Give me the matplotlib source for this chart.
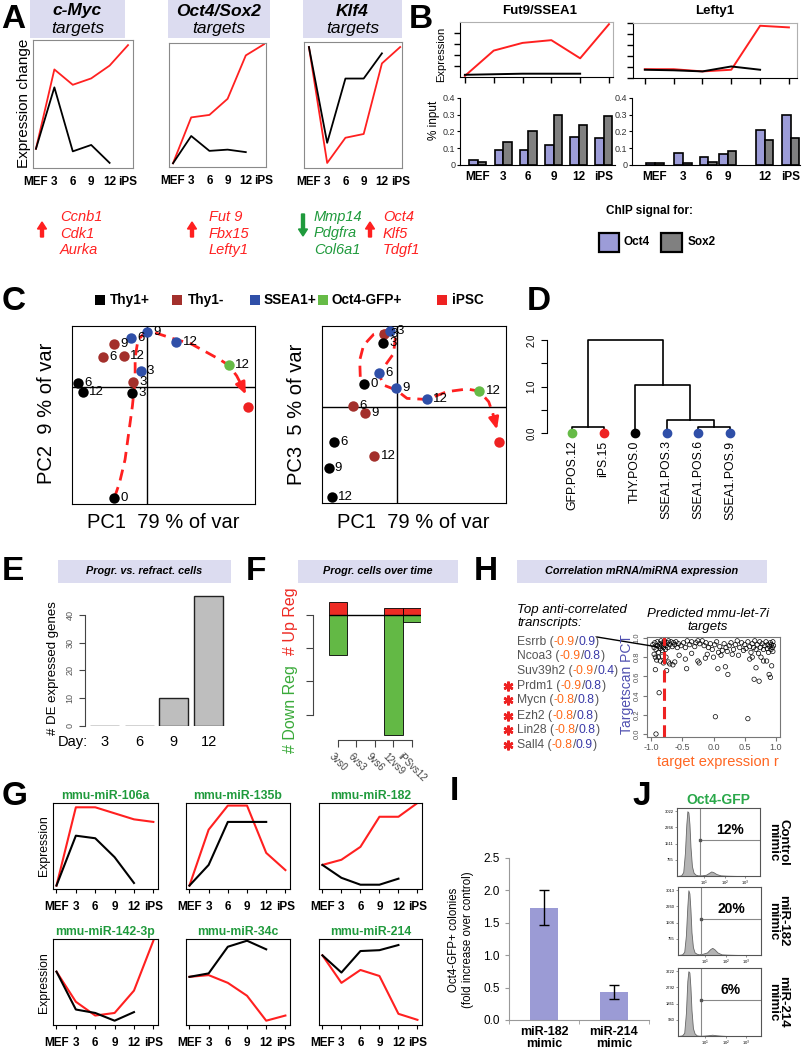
#!/usr/bin/env python3
"""Multi-panel reprogramming figure (panels A-J) rebuilt with matplotlib."""

import numpy as np
import matplotlib
matplotlib.use("Agg")
import matplotlib.pyplot as plt
from matplotlib.patches import Rectangle

plt.rcParams["font.family"] = ["Liberation Sans", "DejaVu Sans"]

W, H = 806, 1050

# ── data ──────────────────────────────────────────────────────────────────────
TIME = ["MEF", "3", "6", "9", "12", "iPS"]

# A: expression change of target sets (red = progressing, black = refractory)
myc_red = [0.15, 0.77, 0.65, 0.70, 0.80, 0.96]
myc_black = [0.15, 0.63, 0.13, 0.18, 0.04]
oct_red = [0.03, 0.40, 0.42, 0.55, 0.90, 0.99]
oct_black = [0.03, 0.25, 0.13, 0.14, 0.12]
klf_red = [0.96, 0.04, 0.24, 0.27, 0.83, 0.96]
klf_black = [0.96, 0.20, 0.71, 0.71, 0.91]
myc_genes = ["Ccnb1", "Cdk1", "Aurka"]
oct_genes = ["Fut 9", "Fbx15", "Lefty1"]
klf_down_genes = ["Mmp14", "Pdgfra", "Col6a1"]
klf_up_genes = ["Oct4", "Klf5", "Tdgf1"]

# B: expression + ChIP (% input)
fut9_red = [0.02, 0.48, 0.62, 0.67, 0.34, 0.96]
fut9_black = [0.04, 0.05, 0.06, 0.06, 0.06]
lefty_red = [0.16, 0.16, 0.12, 0.15, 0.95, 0.92]
lefty_black = [0.15, 0.14, 0.12, 0.21, 0.15]
fut9_oct4 = [0.03, 0.09, 0.09, 0.12, 0.17, 0.16]
fut9_sox2 = [0.02, 0.14, 0.20, 0.30, 0.24, 0.29]
lefty_oct4 = [0.01, 0.07, 0.05, 0.065, 0.21, 0.30]
lefty_sox2 = [0.01, 0.01, 0.015, 0.085, 0.15, 0.16]
lefty_pos = [0, 1.1, 2.1, 2.85, 4.3, 5.33]

# C: PCA (x = PC1 fraction, y = fraction from top)
pc12_grp = ["thy+", "thy+", "thy+", "thy+", "thy-", "thy-", "thy-", "thy-",
            "ssea", "ssea", "ssea", "ssea", "gfp", "ips"]
pc12_x = [0.035, 0.058, 0.330, 0.232, 0.232, 0.172, 0.284, 0.335,
          0.321, 0.408, 0.571, 0.375, 0.857, 0.960]
pc12_y = [0.322, 0.372, 0.376, 0.964, 0.099, 0.174, 0.170, 0.314,
          0.065, 0.034, 0.090, 0.252, 0.221, 0.454]
pc12_lab = ["6", "12", "3", "0", "9", "6", "12", "3", "6", "9", "12", "3", "12", ""]
pc12_path_x = [0.232, 0.26, 0.29, 0.31, 0.33, 0.345, 0.345, 0.36, 0.40, 0.46,
               0.55, 0.65, 0.74, 0.81, 0.857, 0.90, 0.925]
pc12_path_y = [0.964, 0.88, 0.75, 0.60, 0.45, 0.30, 0.18, 0.08, 0.035, 0.04,
               0.07, 0.10, 0.15, 0.19, 0.221, 0.28, 0.33]
pc12_arrow = (0.950, 0.385)

pc13_grp = ["thy-", "ssea", "thy+", "thy+", "thy+", "thy+", "thy+", "thy-", "thy-",
            "thy-", "ssea", "ssea", "ssea", "gfp", "ips"]
pc13_x = [0.339, 0.371, 0.330, 0.230, 0.067, 0.036, 0.054, 0.168, 0.232,
          0.284, 0.312, 0.404, 0.571, 0.855, 0.960]
pc13_y = [0.043, 0.028, 0.094, 0.325, 0.657, 0.803, 0.968, 0.450, 0.493,
          0.732, 0.263, 0.353, 0.415, 0.368, 0.657]
pc13_lab = ["3", "3", "3", "0", "6", "9", "12", "6", "9", "12", "6", "9", "12", "12", ""]
pc13_path_x = [0.208, 0.205, 0.226, 0.281, 0.353, 0.399, 0.389, 0.344, 0.312,
               0.335, 0.404, 0.462, 0.571, 0.679, 0.788, 0.855, 0.906, 0.930]
pc13_path_y = [0.287, 0.193, 0.109, 0.047, 0.024, 0.062, 0.156, 0.221, 0.278,
               0.334, 0.362, 0.409, 0.415, 0.371, 0.356, 0.368, 0.428, 0.50]
pc13_arrow = (0.951, 0.585)

# D: dendrogram
leaves = ["GFP.POS.12", "iPS.15", "THY.POS.0", "SSEA1.POS.3", "SSEA1.POS.6", "SSEA1.POS.9"]
leaf_grp = ["gfp", "ips", "thy+", "ssea", "ssea", "ssea"]
merge_a = [0, 4, 3, 2, 6]
merge_b = [1, 5, 7, 8, 9]
merge_h = [0.13, 0.12, 0.28, 1.03, 1.99]

# E: DE genes progressing vs refractory
de_days = ["3", "6", "9", "12"]
de_counts = [0, 0, 10, 47]

# F: progressing cells over time
f_cats = ["3vs0", "6vs3", "9vs6", "12vs9", "iPSvs12"]
f_up = [4, 0, 0, 2, 2]
f_down = [12, 0, 0, 36, 2]

# G: miRNA expression
mir_names = ["mmu-miR-106a", "mmu-miR-135b", "mmu-miR-182",
             "mmu-miR-142-3p", "mmu-miR-34c", "mmu-miR-214"]
mir_red = [[0.04, 0.95, 0.95, 0.88, 0.81, 0.78],
           [0.04, 0.69, 0.97, 0.97, 0.42, 0.22],
           [0.28, 0.34, 0.49, 0.84, 0.84, 1.00],
           [0.62, 0.27, 0.11, 0.14, 0.40, 0.98],
           [0.56, 0.58, 0.49, 0.34, 0.05, 0.11],
           [0.81, 0.49, 0.64, 0.57, 0.13, 0.06]]
mir_black = [[0.04, 0.62, 0.59, 0.37, 0.07],
             [0.04, 0.28, 0.78, 0.78, 0.78],
             [0.28, 0.13, 0.05, 0.05, 0.12],
             [0.62, 0.18, 0.14, 0.05, 0.15],
             [0.56, 0.60, 0.91, 0.98, 0.88],
             [0.81, 0.61, 0.86, 0.87, 0.93]]

# H: mRNA / miRNA correlation
h_genes = ["Esrrb", "Ncoa3", "Suv39h2", "Prdm1", "Mycn", "Ezh2", "Lin28", "Sall4"]
h_r = ["-0.9", "-0.9", "-0.9", "-0.9", "-0.8", "-0.8", "-0.8", "-0.8"]
h_pct = ["0.9", "0.8", "0.4", "0.8", "0.8", "0.8", "0.8", "0.9"]
h_star = [False, False, False, True, True, True, True, True]
let7_r = [-0.97, -0.95, -0.94, -0.92, -0.90, -0.90, -0.88, -0.87, -0.86, -0.85,
          -0.84, -0.83, -0.82, -0.81, -0.80, -0.79, -0.78, -0.77, -0.76, -0.74,
          -0.73, -0.72, -0.70, -0.68, -0.66, -0.64, -0.62, -0.60, -0.58, -0.56,
          -0.95, -0.93, -0.91, -0.88, -0.85, -0.82, -0.80, -0.76, -0.72, -0.70,
          -0.93, -0.87, -0.92, -0.75, -0.65, -0.62,
          -0.52, -0.48, -0.45, -0.42, -0.38, -0.35, -0.30, -0.28, -0.25, -0.22,
          -0.18, -0.15, -0.12, -0.08, -0.05, -0.02, 0.02, 0.05, 0.08, 0.10,
          0.14, 0.17, 0.20, 0.22, 0.25, 0.28, 0.32, 0.35, 0.38, 0.42, 0.45, 0.48,
          -0.45, -0.43, -0.25, -0.23, -0.13, -0.10, 0.00, 0.03, 0.07, 0.12,
          0.19, 0.23, 0.30, 0.40, -0.35, -0.55,
          0.50, 0.52, 0.55, 0.55, 0.58, 0.60, 0.62, 0.64, 0.65, 0.66, 0.68, 0.68,
          0.70, 0.72, 0.73, 0.74, 0.75, 0.76, 0.78, 0.80, 0.80, 0.82, 0.84, 0.85,
          0.86, 0.87, 0.88, 0.89, 0.90, 0.91, 0.91, 0.92, 0.93, 0.93, 0.94, 0.95,
          0.95, 0.96, 0.62, 0.58]
let7_pct = [0.93, 0.90, 0.95, 0.88, 0.92, 0.96, 0.85, 0.91, 0.94, 0.89,
            0.97, 0.92, 0.87, 0.95, 0.90, 0.93, 0.96, 0.88, 0.92, 0.95,
            0.90, 0.97, 0.93, 0.96, 0.91, 0.95, 0.93, 0.96, 0.90, 0.94,
            0.83, 0.80, 0.77, 0.80, 0.76, 0.81, 0.74, 0.80, 0.75, 0.73,
            0.67, 0.43, 0.00, 0.66, 0.72, 0.75,
            0.92, 0.95, 0.90, 0.97, 0.93, 0.96, 0.91, 0.95, 0.97, 0.94,
            0.97, 0.92, 0.95, 0.90, 0.94, 0.88, 0.93, 0.96, 0.85, 0.91,
            0.87, 0.94, 0.90, 0.86, 0.92, 0.95, 0.88, 0.93, 0.97, 0.90, 0.95, 0.87,
            0.78, 0.68, 0.76, 0.74, 0.79, 0.83, 0.80, 0.18, 0.68, 0.82,
            0.70, 0.62, 0.83, 0.82, 0.84, 0.82,
            0.93, 0.89, 0.16, 0.96, 0.91, 0.85, 0.94, 0.90, 0.57, 0.97, 0.69, 0.88,
            0.93, 0.84, 0.55, 0.96, 0.90, 0.80, 0.94, 0.76, 0.88, 0.92, 0.96, 0.76,
            0.89, 0.93, 0.85, 0.62, 0.91, 0.59, 0.95, 0.88, 0.71, 0.93, 0.90, 0.96,
            0.86, 0.92, 0.80, 0.78]

# I: colony counts
i_labels = ["miR-182\nmimic", "miR-214\nmimic"]
i_means = [1.73, 0.43]
i_err = [0.27, 0.11]

# J: Oct4-GFP flow histograms (log10 fluorescence)
hist_x = [0.0, 0.2, 0.3, 0.38, 0.45, 0.5, 0.55, 0.6, 0.65, 0.72, 0.8, 0.9, 1.0,
          1.2, 1.4, 1.55, 1.65, 1.75, 1.9, 2.1, 2.4, 3.0, 4.0]
ctrl_counts = [0, 0.01, 0.06, 0.35, 0.80, 1.0, 0.98, 0.80, 0.45, 0.15, 0.05, 0.02,
               0.01, 0.01, 0.02, 0.05, 0.07, 0.06, 0.03, 0.01, 0.005, 0, 0]
m182_counts = [0, 0.01, 0.05, 0.30, 0.75, 1.0, 0.95, 0.70, 0.35, 0.12, 0.04, 0.02,
               0.01, 0.02, 0.04, 0.09, 0.11, 0.09, 0.04, 0.01, 0.005, 0, 0]
m214_counts = [0, 0.01, 0.05, 0.35, 0.85, 1.0, 0.98, 0.75, 0.40, 0.12, 0.04, 0.01,
               0.005, 0.005, 0.01, 0.015, 0.02, 0.015, 0.01, 0.005, 0, 0, 0]
j_names = ["Control\nmimic", "miR-182\nmimic", "miR-214\nmimic"]
j_pct = ["12%", "20%", "6%"]
j_ylabels = [["755", "1511", "2266", "3022"], ["755", "1506", "2260", "3013"],
             ["930", "1861", "2792", "3722"]]

# ── style ─────────────────────────────────────────────────────────────────────
RED = "#ff2020"
GREEN_T = "#1f9a3c"
BOXC = "#dcdcf0"
GROUP_COL = {"thy+": "#000000", "thy-": "#a3302c", "ssea": "#2f4fa8",
             "gfp": "#66bb47", "ips": "#ee2222"}
OCT_C = "#9c9cd8"
SOX_C = "#808080"

fig = plt.figure(figsize=(W / 100, H / 100), dpi=100)

# overlay in pixel coordinates for text, boxes and arrows
ov = fig.add_axes([0, 0, 1, 1], zorder=10)
ov.set_xlim(0, W)
ov.set_ylim(H, 0)
ov.axis("off")


def add_ax(x0, y0, x1, y1):
    return fig.add_axes([x0 / W, 1 - y1 / H, (x1 - x0) / W, (y1 - y0) / H])


def box(x0, y0, x1, y1, fc, ec="none", lw=0):
    ov.add_patch(Rectangle((x0, y0), x1 - x0, y1 - y0, facecolor=fc,
                           edgecolor=ec, linewidth=lw))


def title_box(x0, y0, x1, y1, text, fs=7.8):
    box(x0, y0, x1, y1, BOXC)
    ov.text((x0 + x1) / 2, (y0 + y1) / 2, text, ha="center", va="center",
            fontsize=fs, fontweight="bold", fontstyle="italic")


# panel letters
for lab, x, yb in [("A", 1, 28), ("B", 409, 28), ("C", 2, 310), ("D", 527, 310),
                   ("E", 2, 580), ("F", 246, 580), ("G", 2, 805), ("H", 474, 580),
                   ("I", 450, 800), ("J", 632, 805)]:
    ov.text(x, yb, lab, fontsize=24, fontweight="bold", va="baseline", ha="left")

# ── A ─────────────────────────────────────────────────────────────────────────
a_frames = [(33, 40, 133, 168), (169, 43, 266, 167), (304, 42, 402, 168)]
a_xlims = [(-0.16, 5.27), (-0.22, 5.11), (-0.27, 5.1)]
a_boxes = [(30, 0, 125, 38), (168, 0, 270, 38), (303, 0, 402, 38)]
a_titles = ["c-Myc", "Oct4/Sox2", "Klf4"]
for fr, xl, bx, tt, red, blk in zip(a_frames, a_xlims, a_boxes, a_titles,
                                    [myc_red, oct_red, klf_red],
                                    [myc_black, oct_black, klf_black]):
    ax = add_ax(*fr)
    ax.plot(range(6), red, color=RED, lw=1.3)
    ax.plot(range(len(blk)), blk, color="k", lw=1.3)
    ax.set_xlim(*xl)
    ax.set_ylim(0, 1)
    ax.set_yticks([])
    ax.set_xticks(range(6), TIME, fontsize=8.5, fontweight="bold")
    ax.tick_params(axis="x", length=0, pad=6)
    for s in ax.spines.values():
        s.set_color("#8a8a8a")
    box(*bx, BOXC)
    cx = (bx[0] + bx[2]) / 2
    ov.text(cx, 11, tt, ha="center", va="center", fontsize=12.5,
            fontweight="bold", fontstyle="italic")
    ov.text(cx, 28, "targets", ha="center", va="center", fontsize=12.5,
            fontstyle="italic")
ov.text(24, 103, "Expression change", rotation=90, ha="center", va="center",
        fontsize=11)

# gene lists with arrows
for ax_x, tx, genes, col, up in [(42, 60, myc_genes, RED, True),
                                 (192, 209, oct_genes, RED, True),
                                 (303, 314, klf_down_genes, GREEN_T, False),
                                 (370, 383, klf_up_genes, RED, True)]:
    if up:
        ov.arrow(ax_x, 237, 0, -15, width=3, head_width=9, head_length=7,
                 color=col, length_includes_head=True)
    else:
        ov.arrow(ax_x, 214, 0, 22, width=3, head_width=9, head_length=7,
                 color=col, length_includes_head=True)
    for k, g in enumerate(genes):
        ov.text(tx, 217 + 16.5 * k, g, color=col, fontsize=10.5,
                fontstyle="italic", va="center")

# ── B ─────────────────────────────────────────────────────────────────────────
for fr, xl, red, blk, yt, title, tx in [
        ((460, 22, 613, 77), (-0.17, 5.14), fut9_red, fut9_black,
         [0.2, 0.4, 0.6, 0.8], "Fut9/SSEA1", 540),
        ((633, 23, 797, 78), (-0.41, 5.28), lefty_red, lefty_black,
         [0.0, 0.2, 0.4, 0.6, 0.8, 1.0], "Lefty1", 715)]:
    ax = add_ax(*fr)
    ax.plot(range(6), red, color=RED, lw=1.4)
    ax.plot(range(len(blk)), blk, color="k", lw=1.4)
    ax.set_xlim(*xl)
    ax.set_ylim(0, 1)
    ax.set_xticks(range(6), [])
    ax.set_yticks(yt, [])
    ax.tick_params(length=4, width=1, direction="out")
    for s in ["top", "right"]:
        ax.spines[s].set_color("#b0b0b0")
    ov.text(tx, 11, title, ha="center", va="center", fontsize=9.5, fontweight="bold")
ov.text(441, 54, "Expression", rotation=90, ha="center", va="center", fontsize=8)
ov.text(434, 120, "% input", rotation=90, ha="center", va="center", fontsize=8.5)

for fr, xl, pos, o4, s2 in [((460, 98, 615, 165), (-0.71, 5.44), list(range(6)),
                             fut9_oct4, fut9_sox2),
                            ((632, 98, 800, 165), (-0.9, 5.69), lefty_pos,
                             lefty_oct4, lefty_sox2)]:
    ax = add_ax(*fr)
    p = np.array(pos, dtype=float)
    ax.bar(p - 0.17, o4, 0.34, color=OCT_C, edgecolor="k", lw=1.2)
    ax.bar(p + 0.17, s2, 0.34, color=SOX_C, edgecolor="k", lw=1.2)
    ax.set_xlim(*xl)
    ax.set_ylim(0, 0.4)
    ax.set_xticks(p, TIME, fontsize=8.5, fontweight="bold")
    ax.set_yticks([0, 0.1, 0.2, 0.3, 0.4], ["0", "0.1", "0.2", "0.3", "0.4"],
                  fontsize=6.5, color="#333")
    ax.tick_params(axis="x", length=0, pad=4)
    ax.tick_params(axis="y", length=2.5, pad=1)
    ax.spines[["top", "right"]].set_visible(False)

ov.text(650, 211, "ChIP signal for:", ha="center", va="center", fontsize=8.5,
        fontweight="bold")
box(599, 233, 619, 252, OCT_C, "k", 1.6)
ov.text(623, 242, "Oct4", va="center", fontsize=8.5, fontweight="bold")
box(661, 233, 682, 252, SOX_C, "k", 1.6)
ov.text(688, 242, "Sox2", va="center", fontsize=8.5, fontweight="bold")

# ── C ─────────────────────────────────────────────────────────────────────────
for sx, tx, grp, name in [(95, 110, "thy+", "Thy1+"), (172, 188, "thy-", "Thy1-"),
                          (250, 264, "ssea", "SSEA1+"), (318, 331, "gfp", "Oct4-GFP+"),
                          (437, 452, "ips", "iPSC")]:
    box(sx, 295, sx + 10, 305, GROUP_COL[grp])
    ov.text(tx, 300, name, va="center", fontsize=9.8, fontweight="bold")


def pca_panel(fr, cross, xs, ys, grps, labs, path_x, path_y, arrow_end):
    ax = add_ax(*fr)
    ax.set_xlim(0, 1)
    ax.set_ylim(1, 0)
    ax.set_xticks([])
    ax.set_yticks([])
    ax.axvline(cross[0], color="k", lw=1)
    ax.axhline(cross[1], color="k", lw=1)
    ax.plot(path_x, path_y, color=RED, lw=2, dashes=(4, 2.5), zorder=2)
    ax.annotate("", xy=arrow_end, xytext=(path_x[-1], path_y[-1]),
                arrowprops=dict(arrowstyle="-|>,head_length=0.7,head_width=0.3",
                                color=RED, lw=2, shrinkA=0, shrinkB=0), zorder=2)
    for x, y, g, lab in zip(xs, ys, grps, labs):
        ax.plot(x, y, "o", ms=7.5, color=GROUP_COL[g], mec="none", zorder=3,
                clip_on=False)
        if lab:
            ax.annotate(lab, (x, y), xytext=(4.5, 0), textcoords="offset points",
                        va="center", fontsize=9.5, zorder=4)
    return ax


pca_panel((72, 326, 255, 504), (0.41, 0.34), pc12_x, pc12_y, pc12_grp, pc12_lab,
          pc12_path_x, pc12_path_y, pc12_arrow)
pca_panel((322, 326, 506, 503), (0.41, 0.46), pc13_x, pc13_y, pc13_grp, pc13_lab,
          pc13_path_x, pc13_path_y, pc13_arrow)
ov.text(46, 413, "PC2  9 % of var", rotation=90, ha="center", va="center", fontsize=14.5)
ov.text(296, 414, "PC3  5 % of var", rotation=90, ha="center", va="center", fontsize=14.5)
ov.text(163, 523, "PC1  79 % of var", ha="center", va="center", fontsize=14.5)
ov.text(413, 523, "PC1  79 % of var", ha="center", va="center", fontsize=14.5)

# ── D ─────────────────────────────────────────────────────────────────────────
ax = add_ax(547, 340, 760, 433)
node_x = list(range(len(leaves)))
node_h = [0.0] * len(leaves)
for a, b, h in zip(merge_a, merge_b, merge_h):
    ax.plot([node_x[a], node_x[a], node_x[b], node_x[b]],
            [node_h[a], h, h, node_h[b]], color="k", lw=1.2, clip_on=False)
    node_x.append((node_x[a] + node_x[b]) / 2)
    node_h.append(h)
for i, (lab, g) in enumerate(zip(leaves, leaf_grp)):
    ax.plot(i, 0, "o", ms=6, color=GROUP_COL[g], clip_on=False, zorder=3)
    ax.text(i, -0.16, lab, rotation=90, ha="center", va="top", fontsize=8.8)
ax.set_xlim(-0.79, 5.95)
ax.set_ylim(0, 2)
ax.set_xticks([])
ax.set_yticks([0, 0.5, 1, 1.5, 2], ["0.0", "", "1.0", "", "2.0"], fontsize=7,
              rotation=90, va="center")
ax.tick_params(axis="y", length=4)
ax.spines[["top", "right", "bottom"]].set_visible(False)
ax.patch.set_visible(False)

# ── E ─────────────────────────────────────────────────────────────────────────
title_box(58, 560, 231, 583, "Progr. vs. refract. cells")
ax = add_ax(85, 590, 228, 726)
ax.bar(range(4), de_counts, 0.84, color="#bebebe", edgecolor="#222", lw=1)
ax.set_xlim(-0.56, 3.56)
ax.set_ylim(0, 49)
ax.spines[["top", "right", "bottom"]].set_visible(False)
ax.spines["left"].set_bounds(0, 40)
ax.spines["left"].set_color("#444")
ax.set_yticks([0, 10, 20, 30, 40], ["0", "10", "20", "30", "40"], fontsize=6.5,
              color="#555", rotation=90, va="center")
ax.tick_params(axis="y", length=4, color="#444")
ax.set_xticks(range(4), de_days, fontsize=10.5)
ax.tick_params(axis="x", length=0, pad=6.5)
ax.patch.set_visible(False)
ov.text(58, 742, "Day:", va="center", fontsize=10.5)
ov.text(53, 668, "# DE expressed genes", rotation=90, ha="center", va="center",
        fontsize=9.5)

# ── F ─────────────────────────────────────────────────────────────────────────
title_box(298, 560, 458, 583, "Progr. cells over time")
ax = add_ax(313, 600, 421, 740)
xs = np.arange(len(f_cats))
ax.bar(xs, f_up, 1.0, color="#ee2b24", edgecolor="k", lw=0.6)
ax.bar(xs, [-d for d in f_down], 1.0, color="#63b945", edgecolor="k", lw=0.6)
ax.hlines(0, -0.5, 4.5, color="k", lw=1)
ax.set_xlim(-1.35, 4.49)
ax.set_ylim(-37.6, 4.5)
ax.spines[["top", "right"]].set_visible(False)
ax.spines["left"].set_bounds(-30, 0)
ax.spines["bottom"].set_bounds(0, 4)
ax.spines["left"].set_color("#444")
ax.spines["bottom"].set_color("#444")
ax.set_yticks([0, -10, -20, -30], [])
ax.set_xticks(xs, f_cats, fontsize=7, rotation=-45, ha="center", va="top", color="#444")
ax.tick_params(length=5, color="#444")
ax.patch.set_visible(False)
ov.text(290, 621, "# Up Reg", rotation=90, ha="center", va="center", fontsize=11.5,
        color="#ee2b24")
ov.text(290, 709, "# Down Reg", rotation=90, ha="center", va="center", fontsize=11.5,
        color="#3aaa3a")

# ── H ─────────────────────────────────────────────────────────────────────────
title_box(517, 560, 767, 583, "Correlation mRNA/miRNA expression")
ov.text(517, 610, "Top anti-correlated", fontsize=9.5, fontstyle="italic", va="center")
ov.text(517, 623, "transcripts:", fontsize=9.5, fontstyle="italic", va="center")
ov.text(708, 614, "Predicted mmu-let-7i", fontsize=9.5, fontstyle="italic",
        ha="center", va="center")
ov.text(708, 627, "targets", fontsize=9.5, fontstyle="italic", ha="center", va="center")
row_y = [642, 656, 671, 686, 700, 716, 730, 745]
for y, g, r, p, star in zip(row_y, h_genes, h_r, h_pct, h_star):
    t = ov.text(517, y, g + " (", color="#555555", fontsize=8.7, va="center")
    for s, c in [(r, "#ff6a1a"), ("/", "#555555"), (p, "#3a3aa8"), (")", "#555555")]:
        t = ov.annotate(s, xy=(1, 0), xycoords=t, va="bottom", ha="left",
                        color=c, fontsize=8.7)
    if star:
        ov.plot(508, y, marker=(6, 2, 0), ms=7, mew=1.8, color="#ee2222")
ov.plot([597, 658], [637, 647], color="k", lw=1)

ax = add_ax(647, 637, 780, 737)
ax.scatter(let7_r, let7_pct, s=10, facecolors="none", edgecolors="k", lw=0.5)
ax.axvline(-0.8, color="#ee2222", lw=2.2, dashes=(4, 2))
ax.set_xlim(-1.064, 1.064)
ax.set_ylim(-0.031, 1.01)
ax.set_xticks([-1, -0.5, 0, 0.5, 1], ["-1.0", "-0.5", "0.0", "0.5", "1.0"],
              fontsize=6.5, color="#555")
ax.set_yticks([0, 0.2, 0.4, 0.6, 0.8, 1.0], ["0.0", "0.2", "0.4", "0.6", "0.8", "1.0"],
              fontsize=5.5, color="#555", rotation=90, va="center")
ax.tick_params(length=3, color="#777", pad=1.5)
for s in ax.spines.values():
    s.set_color("#777")
ov.text(627, 684, "Targetscan PCT", rotation=90, ha="center", va="center",
        fontsize=10, color="#5050b0")
ov.text(718, 762, "target expression r", ha="center", va="center",
        fontsize=10.5, color="#ff6622")

# ── G ─────────────────────────────────────────────────────────────────────────
g_cols = [(53, 158), (186, 290), (319, 422)]
g_rows = [(803, 889), (939, 1025)]
for k, (name, red, blk) in enumerate(zip(mir_names, mir_red, mir_black)):
    x0, x1 = g_cols[k % 3]
    y0, y1 = g_rows[k // 3]
    ax = add_ax(x0, y0, x1, y1)
    ax.plot(range(6), red, color=RED, lw=1.5)
    ax.plot(range(len(blk)), blk, color="k", lw=1.5)
    ax.set_xlim(-0.18, 5.24)
    ax.set_ylim(0, 1)
    ax.set_yticks([])
    ax.set_xticks(range(6), TIME, fontsize=8.5, fontweight="bold")
    ax.tick_params(axis="x", length=3, pad=6)
    ov.text((x0 + x1) / 2, y0 - 7, name, ha="center", va="center", fontsize=8.8,
            fontweight="bold", color=GREEN_T)
ov.text(44, 846, "Expression", rotation=90, ha="center", va="center", fontsize=8.8)
ov.text(44, 983, "Expression", rotation=90, ha="center", va="center", fontsize=8.8)

# ── I ─────────────────────────────────────────────────────────────────────────
ax = add_ax(509, 858, 649, 1020)
ax.bar([0, 1], i_means, 0.39, color="#9b9bd5", yerr=i_err, capsize=3.5,
       error_kw=dict(elinewidth=1, ecolor="k", capthick=1))
ax.set_xlim(-0.5, 1.5)
ax.set_ylim(0, 2.5)
ax.spines[["top", "right"]].set_visible(False)
ax.spines["left"].set_color("#999")
ax.spines["bottom"].set_color("#999")
ax.set_yticks([0, 0.5, 1, 1.5, 2, 2.5], ["0.0", "0.5", "1.0", "1.5", "2.0", "2.5"],
              fontsize=8.5)
ax.set_xticks([0, 1], i_labels, fontsize=9, fontweight="bold", linespacing=1.0)
ax.set_xticks([-0.5, 0.5, 1.5], minor=True)
ax.tick_params(axis="x", which="major", length=0, pad=4)
ax.tick_params(axis="x", which="minor", length=3, color="#999")
ax.tick_params(axis="y", length=3, color="#999")
ov.text(461, 940, "Oct4-GFP+ colonies\n(fold increase over control)", rotation=90,
        ha="center", va="center", fontsize=8.3, linespacing=1.15)

# ── J ─────────────────────────────────────────────────────────────────────────
ov.text(718, 800, "Oct4-GFP", ha="center", va="center", fontsize=10,
        fontweight="bold", color="#2aa84a")
j_frames = [(677, 808, 760, 876), (678, 887, 761, 955), (678, 968, 761, 1036)]
for fr, counts, nm, pct, ylabs in zip(j_frames, [ctrl_counts, m182_counts, m214_counts],
                                      j_names, j_pct, j_ylabels):
    ax = add_ax(*fr)
    ax.fill_between(hist_x, counts, color="#b4b4b4", edgecolor="#666", lw=0.6)
    ax.axvline(1.1, color="#888", lw=0.8)
    ax.plot([1.1, 4], [0.55, 0.55], color="#888", lw=0.8)
    ax.plot(1.1, 0.55, "s", ms=1.5, color="#555")
    ax.text(2.55, 0.6, pct, ha="center", va="bottom", fontsize=10, fontweight="bold")
    ax.set_xlim(0, 4)
    ax.set_ylim(0, 1.05)
    ax.set_yticks([0.25, 0.5, 0.75, 1.0], ylabs, fontsize=3)
    ax.set_xticks([1.3, 2.3, 3.3], ["10$^1$", "10$^2$", "10$^3$"], fontsize=3)
    ax.tick_params(length=1.5, width=0.5, pad=0.8, color="#666")
    for s in ax.spines.values():
        s.set_color("#555")
        s.set_linewidth(0.8)
    cy = (fr[1] + fr[3]) / 2
    ov.text(778, cy, nm, rotation=-90, ha="center", va="center", fontsize=9.5,
            fontweight="bold", linespacing=0.8)

fig.savefig("out.png", dpi=100)
print("Saved: out.png")
